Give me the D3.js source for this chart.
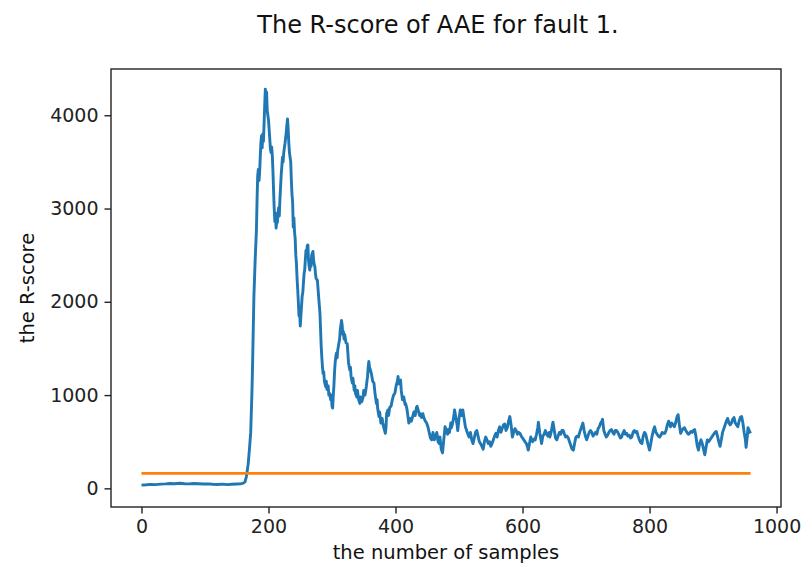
<!DOCTYPE html>
<html>
<head>
<meta charset="utf-8">
<script src="https://cdn.jsdelivr.net/npm/d3@7"></script>
<style>
  body { margin: 0; background: #fff; }
  svg { font-family: "DejaVu Sans", sans-serif; }
</style>
</head>
<body>
<svg id="chart" width="801" height="569"></svg>
<script>
// chart values
const title = "The R-score of AAE for fault 1.";
const xLabel = "the number of samples";
const yLabel = "the R-score";
const xTicks = [0, 200, 400, 600, 800, 1000];
const yTicks = [0, 1000, 2000, 3000, 4000];
const xDomain = [-48, 1007];
const yDomain = [-200, 4496];
const threshold = 161;          // orange control limit
const nSamples = 960;

// [sample index, R-score]
const rScore = [
  [0,35],[8,38],[15,42],[22,40],[30,45],[38,48],[45,52],[52,50],[60,55],[68,50],[75,48],[82,52],[90,50],[98,46],
  [105,48],[112,44],[120,42],[128,45],[135,40],[142,44],[150,46],[156,48],[160,55],[163,70],[165,120],[166,165],
  [168,260],[170,420],[172,600],[174,1050],[175,1350],[177,2050],[179,2450],[181,2770],[182,3100],[183,3350],
  [184,3420],[185,3300],[186,3380],[187,3550],[188,3700],[189,3780],[190,3650],[191,3800],[192,3720],[193,3900],
  [194,4100],[195,4280],[196,4150],[197,4250],[198,4050],[199,4000],[200,3950],[201,3850],[202,3750],[203,3640],
  [204,3600],[205,3660],[206,3570],[207,3400],[208,3190],[209,3000],[210,2860],[211,2950],[212,2790],[213,2870],
  [214,2850],[215,2950],[216,3010],[217,2920],[218,3100],[220,3360],[221,3450],[222,3550],[223,3500],[224,3600],
  [225,3650],[226,3700],[227,3760],[228,3820],[229,3900],[230,3960],[231,3850],[232,3700],[233,3600],[234,3550],
  [235,3500],[236,3300],[237,3150],[238,3070],[239,2800],[240,2900],[241,2750],[242,2680],[243,2500],[244,2410],
  [245,2250],[246,2130],[247,2000],[248,1850],[249,1900],[250,1740],[251,1850],[252,1950],[253,2060],[254,2100],
  [255,2200],[256,2300],[257,2340],[258,2450],[259,2550],[260,2500],[261,2600],[262,2610],[263,2450],[264,2380],
  [265,2340],[266,2450],[267,2380],[268,2500],[269,2520],[270,2540],[271,2450],[272,2400],[273,2380],[274,2300],
  [275,2250],[277,2230],[279,2050],[281,1880],[282,1700],[283,1520],[284,1400],[285,1300],[286,1230],[287,1250],
  [288,1150],[290,1090],[291,1150],[292,1060],[294,1100],[295,1000],[296,1020],[298,950],[299,1000],[300,880],
  [301,860],[302,1000],[303,1100],[304,1250],[305,1350],[306,1410],[307,1450],[308,1400],[309,1480],[310,1520],
  [312,1600],[313,1700],[315,1800],[316,1750],[317,1650],[318,1680],[319,1600],[320,1650],[322,1560],[324,1550],
  [325,1450],[326,1350],[328,1270],[329,1300],[330,1200],[332,1130],[333,1180],[335,1050],[336,1100],[337,1020],
  [339,980],[340,1050],[342,950],[344,910],[345,980],[347,930],[349,980],[350,1050],[352,1000],[354,1090],
  [356,1200],[357,1300],[358,1360],[359,1300],[360,1280],[362,1230],[364,1150],[366,1130],[368,1000],[370,910],
  [371,950],[372,850],[374,770],[375,820],[377,700],[379,750],[380,700],[382,640],[384,590],[385,650],[386,800],
  [388,840],[389,780],[391,870],[393,880],[395,950],[397,1000],[399,1020],[401,1100],[403,1150],[404,1200],
  [405,1120],[406,1150],[408,1160],[409,1050],[411,950],[413,980],[415,900],[416,910],[418,850],[420,750],
  [421,700],[423,750],[425,720],[427,770],[429,820],[431,780],[433,870],[434,880],[436,830],[438,780],[439,800],
  [441,760],[443,800],[445,750],[447,720],[449,700],[451,660],[453,600],[455,540],[457,520],[459,600],[461,520],
  [463,550],[465,600],[467,500],[469,480],[470,550],[472,420],[474,380],[476,520],[478,660],[480,620],[482,580],
  [483,630],[485,600],[487,700],[488,650],[490,700],[492,780],[493,840],[495,760],[497,680],[498,620],[500,750],
  [502,840],[504,780],[506,840],[508,750],[510,660],[512,620],[514,580],[516,550],[518,600],[520,520],[522,480],
  [524,540],[526,600],[528,620],[530,560],[532,500],[534,480],[536,450],[538,420],[540,500],[542,550],[544,520],
  [546,480],[548,500],[550,450],[552,480],[554,520],[556,560],[558,590],[560,550],[562,620],[564,660],[566,600],
  [568,640],[570,680],[572,690],[574,620],[576,650],[578,720],[580,770],[582,680],[584,550],[586,600],[588,640],
  [590,620],[592,580],[594,600],[596,590],[598,560],[600,540],[602,520],[604,500],[606,480],[608,440],[609,410],
  [611,480],[613,550],[614,520],[616,500],[618,530],[620,520],[622,580],[624,650],[625,710],[627,600],[629,520],
  [630,480],[632,560],[634,580],[636,620],[638,580],[640,560],[642,600],[643,550],[645,600],[647,680],[648,710],
  [650,620],[652,540],[654,520],[656,560],[658,600],[660,580],[662,620],[664,620],[666,580],[668,550],[670,560],
  [672,540],[674,500],[676,460],[678,420],[680,410],[682,480],[684,550],[686,560],[688,550],[690,600],[692,640],
  [694,680],[695,700],[697,620],[699,560],[701,520],[703,560],[705,600],[707,620],[709,600],[711,560],[713,580],
  [715,600],[717,580],[719,640],[721,660],[723,700],[725,720],[726,740],[728,620],[730,580],[732,550],[734,570],
  [736,600],[738,620],[740,630],[742,600],[744,580],[746,620],[748,620],[750,600],[752,570],[754,540],[756,550],
  [758,590],[760,620],[762,580],[764,590],[766,560],[768,570],[770,540],[772,550],[774,600],[776,620],[778,600],
  [780,610],[782,560],[784,520],[786,490],[788,480],[790,560],[792,600],[794,580],[796,520],[798,460],[800,410],
  [802,480],[804,560],[806,620],[808,660],[810,600],[812,580],[814,560],[816,550],[818,570],[820,600],[822,590],
  [824,590],[826,620],[828,680],[830,720],[831,700],[833,660],[835,700],[837,680],[839,660],[841,700],[843,760],
  [845,790],[847,680],[849,590],[851,620],[853,640],[855,650],[857,620],[859,600],[861,580],[863,590],[865,610],
  [867,600],[869,620],[871,630],[873,560],[875,460],[877,410],[879,480],[881,520],[883,480],[885,420],[887,360],
  [889,440],[891,520],[893,500],[895,520],[897,540],[899,560],[901,580],[903,600],[905,610],[907,560],[909,500],
  [911,450],[913,520],[915,600],[917,640],[919,680],[921,720],[923,750],[925,700],[927,680],[929,700],[931,740],
  [933,760],[935,700],[937,680],[939,660],[941,720],[943,760],[945,770],[947,700],[949,600],[951,520],[952,440],
  [954,560],[955,650],[957,620],[959,590]
];

const width = 801, height = 569;
const margin = { top: 69, right: 20, bottom: 62, left: 111 };

const svg = d3.select("#chart");

const x = d3.scaleLinear().domain(xDomain).range([margin.left, width - margin.right]);
const y = d3.scaleLinear().domain(yDomain).range([height - margin.bottom, margin.top]);

// title
svg.append("text")
    .attr("x", 438)
    .attr("y", 33)
    .attr("text-anchor", "middle")
    .attr("font-size", 24)
    .attr("fill", "#111")
    .text(title);

// lines
const line = d3.line()
    .x(d => x(d[0]))
    .y(d => y(d[1]));

svg.append("path")
    .datum(rScore)
    .attr("fill", "none")
    .attr("stroke", "#1f77b4")
    .attr("stroke-width", 2.9)
    .attr("stroke-linejoin", "round")
    .attr("d", line);

svg.append("path")
    .datum([[0, threshold], [nSamples - 1, threshold]])
    .attr("fill", "none")
    .attr("stroke", "#ff7f0e")
    .attr("stroke-width", 2.9)
    .attr("d", line);

// axes
const fmt = d3.format("d");
const xAxis = svg.append("g")
    .attr("transform", `translate(0,${height - margin.bottom})`)
    .call(d3.axisBottom(x).tickValues(xTicks).tickFormat(fmt).tickSize(6.5).tickPadding(6).tickSizeOuter(0));

const yAxis = svg.append("g")
    .attr("transform", `translate(${margin.left},0)`)
    .call(d3.axisLeft(y).tickValues(yTicks).tickFormat(fmt).tickSize(6.5).tickPadding(6).tickSizeOuter(0));

[xAxis, yAxis].forEach(g => {
    g.select(".domain").remove();
    g.selectAll(".tick line").attr("stroke", "#222").attr("stroke-width", 1.4);
    g.selectAll(".tick text")
        .attr("font-size", 19)
        .attr("font-family", "DejaVu Sans, sans-serif")
        .attr("fill", "#222");
});

// frame
svg.append("rect")
    .attr("x", margin.left)
    .attr("y", margin.top)
    .attr("width", width - margin.right - margin.left)
    .attr("height", height - margin.bottom - margin.top)
    .attr("fill", "none")
    .attr("stroke", "#222")
    .attr("stroke-width", 1.4);

// axis labels
svg.append("text")
    .attr("x", (margin.left + width - margin.right) / 2)
    .attr("y", 559)
    .attr("text-anchor", "middle")
    .attr("font-size", 19.5)
    .attr("fill", "#111")
    .text(xLabel);

svg.append("text")
    .attr("transform", `translate(34,${(margin.top + height - margin.bottom) / 2}) rotate(-90)`)
    .attr("text-anchor", "middle")
    .attr("font-size", 19.5)
    .attr("fill", "#111")
    .text(yLabel);
</script>
</body>
</html>
